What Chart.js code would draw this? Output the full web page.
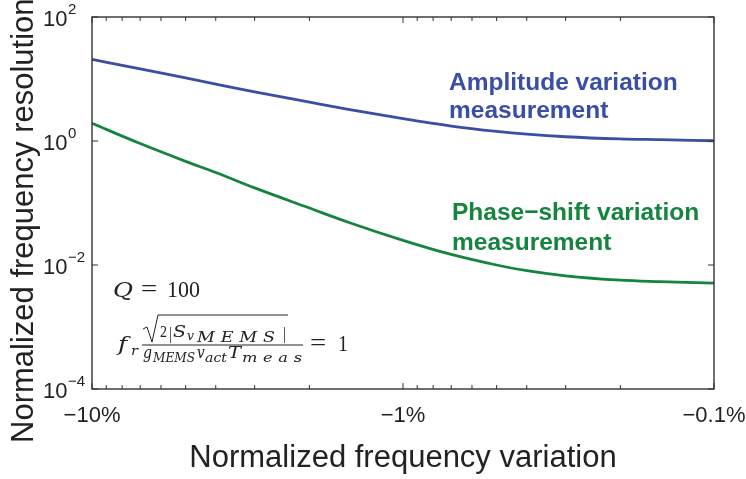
<!DOCTYPE html>
<html>
<head>
<meta charset="utf-8">
<script src="https://cdn.jsdelivr.net/npm/chart.js@4"></script>
<style>
  body { margin: 0; background: #fff; }
  #wrap { width: 746px; height: 479px; }
</style>
</head>
<body>
<div id="wrap"><canvas id="myChart" width="746" height="479"></canvas></div>
<script>
// frequency variation (magnitude, %), axis shown as negative
const variation = [10, 7, 5, 4, 3, 2, 1.5, 1, 0.7, 0.5, 0.4, 0.3, 0.2, 0.15, 0.1];
const amplitudeRes = [20.8, 14.5, 10.4, 8.3, 6.2, 4.25, 3.25, 2.29, 1.74, 1.43, 1.29, 1.17, 1.08, 1.05, 1.01];
const phaseRes = [1.93, 0.91, 0.47, 0.31, 0.175, 0.083, 0.049, 0.025, 0.0148, 0.0100, 0.0081, 0.0067, 0.0057, 0.0054, 0.0051];

const xTicks = [10, 1, 0.1];
const xMinor = [9, 8, 7, 6, 5, 4, 3, 2, 0.9, 0.8, 0.7, 0.6, 0.5, 0.4, 0.3, 0.2];
const yTicks = [100, 1, 0.01, 0.0001];
const yTickExp = ['2', '0', '\u22122', '\u22124'];

const blue = '#3a4fa4';
const green = '#14843f';
const ink = '#222';
const sans = '"Liberation Sans", Arial, Helvetica, sans-serif';
const serif = '"Liberation Serif", "Times New Roman", serif';
const mathIt = '"DejaVu Serif", "Liberation Serif", serif';

// draws txt between x0 and x1: stretches a bit, then spreads the letters
function spread(ctx, txt, x0, x1, y, font) {
  ctx.save();
  ctx.font = font;
  ctx.textAlign = 'left';
  ctx.textBaseline = 'alphabetic';
  const chars = [...txt];
  const ws = chars.map(c => ctx.measureText(c).width);
  const total = ws.reduce((s, w) => s + w, 0);
  let k = (x1 - x0) / total;
  k = Math.max(0.85, Math.min(1.25, k));
  const gap = chars.length > 1 ? (x1 - x0 - total * k) / (chars.length - 1) : 0;
  let x = x0;
  chars.forEach((c, i) => {
    ctx.save();
    ctx.translate(x, y);
    ctx.scale(k, 1);
    ctx.fillText(c, 0, 0);
    ctx.restore();
    x += ws[i] * k + gap;
  });
  ctx.restore();
}

const decor = {
  id: 'decor',
  afterDraw(chart) {
    const ctx = chart.ctx;
    const a = chart.chartArea;
    const xs = chart.scales.x, ys = chart.scales.y;
    ctx.save();

    // box
    ctx.strokeStyle = '#333';
    ctx.lineWidth = 1.4;
    ctx.strokeRect(a.left, a.top, a.right - a.left, a.bottom - a.top);

    // inward ticks
    ctx.lineWidth = 1;
    ctx.beginPath();
    xTicks.forEach(v => {
      const x = xs.getPixelForValue(v);
      ctx.moveTo(x, a.bottom); ctx.lineTo(x, a.bottom - 6);
      ctx.moveTo(x, a.top); ctx.lineTo(x, a.top + 6);
    });
    xMinor.forEach(v => {
      const x = xs.getPixelForValue(v);
      ctx.moveTo(x, a.bottom); ctx.lineTo(x, a.bottom - 4);
      ctx.moveTo(x, a.top); ctx.lineTo(x, a.top + 4);
    });
    yTicks.forEach(v => {
      const y = ys.getPixelForValue(v);
      ctx.moveTo(a.left, y); ctx.lineTo(a.left + 6, y);
      ctx.moveTo(a.right, y); ctx.lineTo(a.right - 6, y);
    });
    ctx.stroke();

    // y tick labels 10^n
    ctx.fillStyle = ink;
    ctx.textAlign = 'left';
    ctx.textBaseline = 'alphabetic';
    yTicks.forEach((v, i) => {
      const y = ys.getPixelForValue(v);
      ctx.font = '22px ' + sans;
      ctx.fillText('10', 43, y + 9);
      ctx.font = '15px ' + sans;
      ctx.fillText(yTickExp[i], 68, y - 3);
    });

    // y title
    ctx.save();
    ctx.translate(33, 443);
    ctx.rotate(-Math.PI / 2);
    ctx.font = '31px ' + sans;
    ctx.fillText('Normalized frequency resolution', 0, 0);
    ctx.restore();

    // curve labels
    ctx.font = 'bold 24.5px ' + sans;
    ctx.fillStyle = blue;
    ctx.fillText('Amplitude variation', 449, 90);
    ctx.fillText('measurement', 449, 118);
    ctx.fillStyle = green;
    ctx.fillText('Phase\u2212shift variation', 452, 220);
    ctx.fillText('measurement', 452, 250);

    // formula block
    ctx.fillStyle = ink;
    ctx.strokeStyle = ink;
    const it = s => 'italic ' + s + 'px ' + mathIt;
    const up = s => s + 'px ' + serif;
    spread(ctx, 'Q', 113, 133, 297, it(21));
    spread(ctx, '=', 141, 158, 296, up(23));
    spread(ctx, '100', 167, 200, 297, up(23));

    spread(ctx, 'f', 118, 130, 351, it(20));
    spread(ctx, 'r', 131, 138, 355, it(13));
    ctx.lineWidth = 1;
    ctx.beginPath();
    ctx.moveTo(143, 329); ctx.lineTo(147, 327);
    ctx.lineTo(152, 342); ctx.lineTo(158, 315); ctx.lineTo(288, 315);
    ctx.stroke();
    spread(ctx, '2', 160, 167, 337, up(16));
    spread(ctx, '|', 169, 171, 339, up(17));
    spread(ctx, 'S', 173, 186, 337, it(16));
    spread(ctx, 'v', 187, 194, 340, it(12));
    spread(ctx, 'MEMS', 197, 275, 342, it(14));
    spread(ctx, '|', 283, 286, 339, up(17));
    ctx.beginPath();
    ctx.moveTo(142, 345); ctx.lineTo(303, 345);
    ctx.stroke();
    spread(ctx, 'g', 143, 152, 358, it(16));
    spread(ctx, 'MEMS', 153, 195, 362, it(12));
    spread(ctx, 'v', 197, 204, 358, it(16));
    spread(ctx, 'act', 205, 227, 362, it(12));
    spread(ctx, 'T', 228, 241, 358, it(16));
    spread(ctx, 'meas', 242, 302, 362, it(13));
    spread(ctx, '=', 310, 327, 350, up(23));
    spread(ctx, '1', 338, 348, 351, up(23));

    ctx.restore();
  }
};

const ctx = document.getElementById('myChart');

new Chart(ctx, {
  type: 'line',
  data: {
    datasets: [
      {
        label: 'Amplitude variation measurement',
        data: variation.map((v, i) => ({ x: v, y: amplitudeRes[i] })),
        borderColor: blue,
        borderWidth: 2.8,
        pointRadius: 0,
        cubicInterpolationMode: 'monotone'
      },
      {
        label: 'Phase-shift variation measurement',
        data: variation.map((v, i) => ({ x: v, y: phaseRes[i] })),
        borderColor: green,
        borderWidth: 2.8,
        pointRadius: 0,
        cubicInterpolationMode: 'monotone'
      }
    ]
  },
  options: {
    responsive: false,
    animation: false,
    layout: { padding: { top: 17, right: 32, left: 0, bottom: 0 } },
    plugins: { legend: { display: false }, tooltip: { enabled: false } },
    scales: {
      x: {
        type: 'logarithmic',
        reverse: true,
        min: 0.1,
        max: 10,
        grid: { display: false },
        border: { display: false },
        afterBuildTicks: s => { s.ticks = xTicks.map(v => ({ value: v })); },
        afterFit: s => { s.height = 90; s.paddingLeft = 0; s.paddingRight = 0; },
        ticks: {
          autoSkip: false,
          maxRotation: 0,
          padding: 6,
          color: ink,
          font: { family: sans, size: 22 },
          callback: v => '\u2212' + v + '%'
        },
        title: {
          display: true,
          text: 'Normalized frequency variation',
          color: ink,
          font: { family: sans, size: 31 },
          padding: { top: 0, bottom: 2 }
        }
      },
      y: {
        type: 'logarithmic',
        min: 0.0001,
        max: 100,
        grid: { display: false },
        border: { display: false },
        ticks: { display: false },
        afterFit: s => { s.width = 92; }
      }
    }
  },
  plugins: [decor]
});
</script>
</body>
</html>
